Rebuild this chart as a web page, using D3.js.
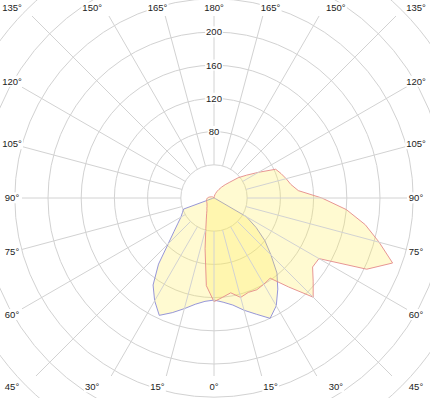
<!DOCTYPE html>
<html>
<meta charset="utf-8">
<head>
    <script src="https://d3js.org/d3.v7.min.js"></script>
</head>

<style>
  body { margin: 0; background: #fff; }
  svg text {
  font-family: "Liberation Sans", Arial, sans-serif;
  font-size: 9.5px;
  fill: #222;
  }
  svg .grid {
  fill: none;
  stroke: #d2d2d2;
  stroke-width: 1;
  }
  svg .curve {
  fill: #ffee55;
  fill-opacity: .27;
  stroke-width: .9;
  }
</style>

<body>
    <script>

        // gamma angles (degrees from nadir), 5 degree steps
        var gamma = [0, 5, 10, 15, 20, 25, 30, 35, 40, 45, 50, 55, 60, 65, 70, 75, 80, 85, 90,
                     95, 100, 105, 110, 115, 120, 125, 130, 135, 140, 145, 150, 155, 160, 165, 170, 175, 180];

        // intensities in cd/klm
        var c0   = [123, 126, 131, 140, 149, 160, 150, 134, 118, 97, 80, 62, 45, 2, 1, 1, 0, 0, 0,
                    0, 0, 0, 0, 0, 0, 0, 0, 0, 0, 0, 0, 0, 0, 0, 0, 0, 0];
        var c180 = [123, 125, 130, 138, 147, 156, 143, 128, 104, 78, 63, 53, 46, 42, 39, 2, 1, 0, 0,
                    0, 0, 0, 0, 0, 0, 0, 0, 0, 0, 0, 0, 0, 0, 0, 0, 0, 0];
        var c90  = [125, 120, 116, 124, 121, 122, 120, 118, 140, 169, 156, 145, 146, 203, 229, 206, 185, 160, 130,
                    102, 94, 90, 86, 82, 62, 48, 38, 27, 21, 16, 12, 9, 6, 4, 2, 1, 0];
        var c270 = [125, 106, 62, 38, 27, 21, 17, 15, 13, 12, 11, 10.5, 10, 9.8, 9.5, 9.2, 9, 8.5, 8,
                    7, 6, 5, 4, 3.5, 3, 2.5, 2, 1.5, 1, 0.5, 0, 0, 0, 0, 0, 0, 0];

        var rings = [40, 80, 120, 160, 200, 240, 280, 320, 360];
        var ringLabels = [80, 120, 160, 200];
        var tickAngles = [0, 15, 30, 45, 60, 75, 90, 105, 120, 135, 150, 165, 180];

        var width = 430,
            height = 398,
            cx = 214,
            cy = 198;

        var svg = d3.select("body").append("svg")
            .attr("width", width)
            .attr("height", height);

        svg.append("clipPath").attr("id", "clip")
          .append("rect")
            .attr("x", cx - 192).attr("y", cy - 182)
            .attr("width", 385).attr("height", 360);

        var r = d3.scaleLinear().domain([0, 200]).range([0, 166]);

        var g = svg.append("g").attr("transform", "translate(" + cx + "," + cy + ")");

        // rings
        g.selectAll("circle.grid")
          .data(rings)
          .enter().append("circle")
          .attr("class", "grid")
          .attr("r", function(d) { return r(d); });

        // spokes every 15 deg, both sides
        var spokes = [];
        tickAngles.forEach(function(a) {
            spokes.push(a);
            if (a > 0 && a < 180) spokes.push(-a);
        });
        var rad = Math.PI / 180;
        svg.append("g").attr("clip-path", "url(#clip)")
          .selectAll("line")
          .data(spokes)
          .enter().append("line")
          .attr("class", "grid")
          .attr("x1", function(d) { return cx + Math.sin(d * rad) * r(40); })
          .attr("y1", function(d) { return cy + Math.cos(d * rad) * r(40); })
          .attr("x2", function(d) { return cx + Math.sin(d * rad) * r(480); })
          .attr("y2", function(d) { return cy + Math.cos(d * rad) * r(480); });

        // curves: right half then left half, closed
        var radial = d3.lineRadial()
            .angle(function(d) { return d[0]; })
            .radius(function(d) { return r(d[1]); })
            .curve(d3.curveLinearClosed);

        function plane(right, left) {
            var pts = [];
            gamma.forEach(function(a, i) { pts.push([Math.PI - a * rad, right[i]]); });
            for (var i = gamma.length - 2; i > 0; i--) pts.push([Math.PI + gamma[i] * rad, left[i]]);
            return pts;
        }

        g.append("path")
          .attr("class", "curve")
          .attr("stroke", "#8a8ad6")
          .attr("d", radial(plane(c0, c180)));

        g.append("path")
          .attr("class", "curve")
          .attr("stroke", "#e48a8a")
          .attr("d", radial(plane(c90, c270)));

        // labels with white background
        function label(x, y, txt) {
            var lg = svg.append("g");
            var t = lg.append("text")
                .attr("x", x).attr("y", y)
                .attr("text-anchor", "middle")
                .attr("dy", "0.35em")
                .text(txt);
            var b = t.node().getBBox();
            lg.insert("rect", "text")
                .attr("x", b.x - 1).attr("y", b.y)
                .attr("width", b.width + 2).attr("height", b.height)
                .attr("fill", "#fff");
        }

        ringLabels.forEach(function(v) { label(cx, cy - r(v), v); });

        spokes.forEach(function(a) {
            var dx = Math.sin(a * rad), dy = Math.cos(a * rad);
            var t = Math.min(Math.abs(dx) > 1e-6 ? 202 / Math.abs(dx) : 1e9,
                             Math.abs(dy) > 1e-6 ? 211 / Math.abs(dy) : 1e9);
            var x = cx + t * dx,
                y = cy + Math.max(-190, Math.min(189, t * dy));
            label(x, y, Math.abs(a) + "°");
        });
    </script>
</body>
</html>
